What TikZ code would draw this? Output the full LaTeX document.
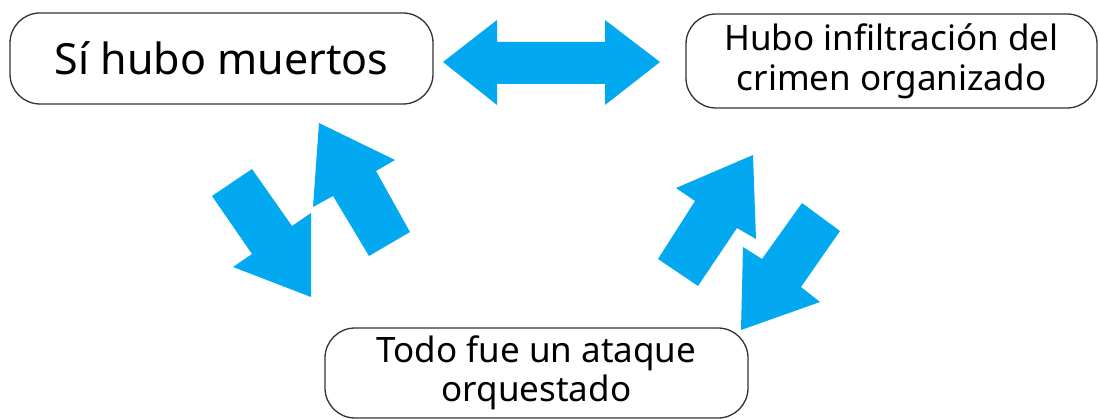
\documentclass[tikz,border=0pt]{standalone}
\usepackage{fontspec}
\setmainfont{Noto Sans}
\definecolor{flechaazul}{RGB}{3,169,240}
\definecolor{bordegris}{RGB}{50,50,50}

\begin{document}
\begin{tikzpicture}[x=1pt,y=-1pt,
    caja/.style={draw=bordegris, line width=1.3pt, rounded corners=30pt, fill=white,
                 align=center, inner sep=0pt},
    flecha/.style={fill=flechaazul, draw=none}]
    \useasboundingbox (0,0) rectangle (1099,419);

    % cajas
    \node[caja, minimum width=423pt, minimum height=91pt,
          font=\fontsize{43}{48}\selectfont] (muertos) at (221.5,58.5) {Sí hubo muertos};
    \node[caja, minimum width=411pt, minimum height=94pt,
          font=\fontsize{35}{40}\selectfont] (crimen) at (891.5,61) {Hubo infiltración del\\crimen organizado};
    \node[caja, minimum width=423pt, minimum height=90pt,
          font=\fontsize{35}{39}\selectfont] (ataque) at (536.5,373) {Todo fue un ataque\\orquestado};

    % flecha doble arriba
    \fill[flecha] (443,62) -- (497,20) -- (497,42) -- (605,42) -- (605,20) -- (660,62)
        -- (605,105) -- (605,84) -- (497,84) -- (497,105) -- cycle;

    % flechas izquierda
    \fill[flecha] (212,196) -- (252,169) -- (292,226) -- (311,213) -- (311,297)
        -- (233,267) -- (252,254) -- cycle;
    \fill[flecha] (319,123) -- (395,160) -- (376,171) -- (410,232) -- (369,256)
        -- (333,196) -- (313,207) -- cycle;

    % flechas derecha
    \fill[flecha] (753,155) -- (756,239) -- (737,228) -- (698,286) -- (658,259)
        -- (695,201) -- (676,188) -- cycle;
    \fill[flecha] (802,203) -- (840,231) -- (801,287) -- (820,302) -- (741,330)
        -- (743,247) -- (762,259) -- cycle;
\end{tikzpicture}
\end{document}
